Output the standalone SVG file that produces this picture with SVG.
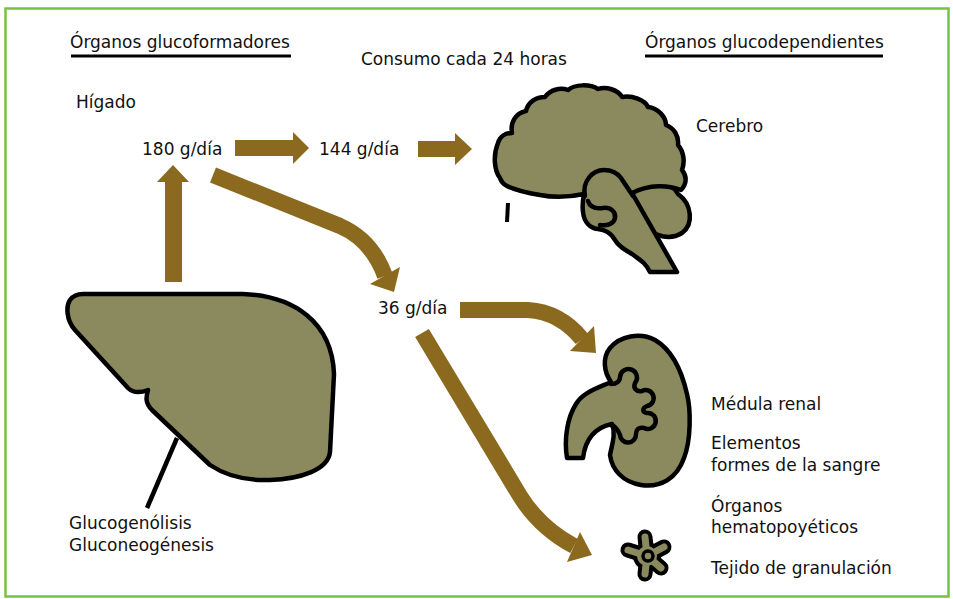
<svg xmlns="http://www.w3.org/2000/svg" width="953" height="599" viewBox="0 0 953 599">
  <style>
    text { font-family: "DejaVu Sans", Verdana, sans-serif; font-size: 17px; fill: #111; }
    .organ { fill: #8b8a5f; stroke: #000; stroke-width: 4.5; stroke-linejoin: round; stroke-linecap: round; }
    .inner { fill: none; stroke: #000; stroke-width: 4.5; stroke-linecap: round; stroke-linejoin: round; }
    .flow { fill: #8b6a1f; }
    .flowline { fill: none; stroke: #8b6a1f; stroke-width: 16; }
    .rule { stroke: #000; stroke-width: 3; }
  </style>

  <!-- frame -->
  <rect x="5.5" y="8.5" width="943" height="588" fill="#fff" stroke="#7ac143" stroke-width="2.5"/>

  <!-- headings -->
  <g id="heading-left">
    <text x="70" y="48">Órganos glucoformadores</text>
    <line class="rule" x1="71" y1="56" x2="291" y2="56"/>
  </g>
  <g id="heading-mid">
    <text x="361" y="65">Consumo cada 24 horas</text>
  </g>
  <g id="heading-right">
    <text x="645" y="48">Órganos glucodependientes</text>
    <line class="rule" x1="645" y1="56" x2="883" y2="56"/>
  </g>

  <!-- liver -->
  <g id="liver">
    <text x="76" y="108">Hígado</text>
    <path class="organ" d="M 83,294 L 243,294 C 294,296 332,322 334,374 L 330,452 C 328,470 300,479 270,480 C 245,481 225,475 210,465 L 152,410 C 145,403 146,397 148,390 C 140,393 133,393 128,388 L 75,330 C 66,320 66,306 70,300 C 73,296 78,294 83,294 Z"/>
    <line x1="177" y1="438" x2="147" y2="508" stroke="#000" stroke-width="4.5"/>
    <text x="69" y="529">Glucogenólisis</text>
    <text x="69" y="551">Gluconeogénesis</text>
  </g>

  <!-- amounts -->
  <g id="q180"><text x="142" y="155">180 g/día</text></g>
  <g id="q144"><text x="319" y="155">144 g/día</text></g>
  <g id="q36"><text x="378" y="314">36 g/día</text></g>

  <!-- brain: cerebellum behind, then cerebrum with temporal lobe and stem -->
  <g id="brain">
    <path class="organ" d="M 628,190 C 645,175 670,180 678,194 C 692,204 694,224 682,233 C 671,240 655,237 648,228 Z"/>
    <path class="organ" d="M 500,178
      C 494,170 493,155 498,143 C 500,136 506,133 512,133
      C 510,122 516,113 526,111 C 528,102 536,97 545,97
      C 550,90 560,87 568,90 C 575,84 590,84 598,89
      C 606,86 618,90 622,97 C 632,95 645,100 648,107
      C 658,108 666,117 666,125 C 674,128 679,136 678,145
      C 684,152 685,162 682,170 C 687,176 687,184 681,190
      C 668,185 650,184 632,193
      L 677,272 L 650,272
      C 645,262 640,260 632,254 C 625,250 618,246 615,240
      C 610,232 605,230 598,229 C 590,228 584,222 583,212
      C 582,205 583,199 584,194
      C 570,197 555,198 540,195 C 528,193 515,190 507,186
      C 503,184 501,181 500,178 Z"/>
    <path class="inner" d="M 585,196 C 582,182 592,170 604,170 C 612,170 618,174 621,178 L 633,196"/>
    <path class="inner" d="M 588,201 C 590,207 596,209 603,208 C 611,207 616,212 615,218 C 614,224 607,226 600,225"/>
    <line x1="508" y1="203" x2="507" y2="222" stroke="#000" stroke-width="4"/>
    <text x="696" y="132">Cerebro</text>
  </g>

  <!-- kidney -->
  <g id="kidney">
    <path class="organ" d="M 611,382 C 598,388 583,392 576,404 C 567,418 564,440 567,458 L 583,458 C 585,442 592,428 612,424 C 616,434 612,444 610,455 C 612,470 623,482 641,485 C 661,488 677,478 684,458 C 691,440 691,410 687,394 C 682,372 672,350 655,340 C 640,332 620,336 610,348 C 602,358 604,372 611,382 Z"/>
    <path class="inner" d="M 611,384 C 617,384 620,381 620,377 A 8.5 8.5 0 1 1 635,383 C 633,388 636,392 642,391 A 8 8 0 1 1 647,406 C 642,408 642,412 647,413 A 8 8 0 1 1 644,428 C 638,427 636,430 636,434 A 8 8 0 1 1 620,435 C 618,430 615,426 611,425"/>
    <text x="711" y="410">Médula renal</text>
    <text x="711" y="449">Elementos</text>
    <text x="711" y="471">formes de la sangre</text>
    <text x="711" y="512">Órganos</text>
    <text x="711" y="533">hematopoyéticos</text>
  </g>

  <!-- granulation tissue cell -->
  <g id="cell">
    <g stroke="#000" stroke-width="15" stroke-linecap="round">
      <line x1="647" y1="556" x2="645" y2="537"/>
      <line x1="647" y1="556" x2="664" y2="547"/>
      <line x1="647" y1="556" x2="661" y2="568"/>
      <line x1="647" y1="556" x2="645" y2="574"/>
      <line x1="647" y1="556" x2="628" y2="550"/>
    </g>
    <circle cx="647" cy="556" r="14" fill="#000"/>
    <g stroke="#8b8a5f" stroke-width="7" stroke-linecap="round">
      <line x1="647" y1="556" x2="645" y2="537"/>
      <line x1="647" y1="556" x2="664" y2="547"/>
      <line x1="647" y1="556" x2="661" y2="568"/>
      <line x1="647" y1="556" x2="645" y2="574"/>
      <line x1="647" y1="556" x2="628" y2="550"/>
    </g>
    <circle cx="647" cy="556" r="10" fill="#8b8a5f"/>
    <circle cx="648" cy="556" r="5" fill="#8b8a5f" stroke="#000" stroke-width="3.5"/>
    <text x="711" y="574">Tejido de granulación</text>
  </g>

  <!-- flows -->
  <g id="connectors">
    <polygon class="flow" points="165,282 165,182 157,182 173,165 189,182 182,182 182,282"/>
    <polygon class="flow" points="235,140 293,140 293,132 309,148 293,164 293,156 235,156"/>
    <polygon class="flow" points="418,141 455,141 455,133 472,149 455,165 455,157 418,157"/>
    <path class="flowline" d="M 213,175 L 340,226 Q 372,240 385,276"/>
    <polygon class="flow" points="370,284 400,267 394,292"/>
    <path class="flowline" d="M 460,310 L 528,310 Q 560,312 582,339"/>
    <polygon class="flow" points="570,351 594,326 596,353"/>
    <path class="flowline" d="M 422,333 L 520,496 Q 540,528 574,546"/>
    <polygon class="flow" points="567,562 580,532 592,555"/>
  </g>
</svg>
